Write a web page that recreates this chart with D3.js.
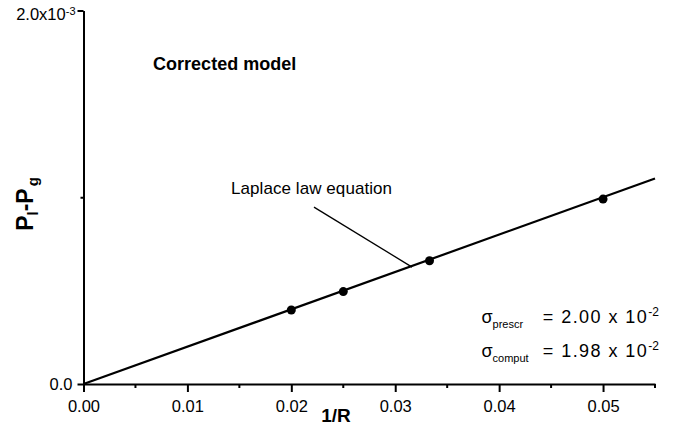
<!DOCTYPE html>
<html>
<head>
<meta charset="utf-8">
<script src="https://cdn.jsdelivr.net/npm/d3@7"></script>
<style>
  body { margin: 0; background: #fff; }
  text { font-family: "Liberation Sans", Arial, sans-serif; fill: #000; }
</style>
</head>
<body>
<div id="chart"></div>
<script>
// 1/R values and pressure difference
var xMajorTicks = [0, 0.01, 0.02, 0.03, 0.04, 0.05];
var xMinorTicks = [0.005, 0.015, 0.025, 0.035, 0.045, 0.055];
var xTickLabels = ["0.00", "0.01", "0.02", "0.03", "0.04", "0.05"];
var yTicks = [0, 0.001, 0.002];
var yTickLabels = ["0.0", "", "2.0x10^-3"];

var pointsR = [0.02, 0.025, 0.0333, 0.05];
var pointsP = [0.000396, 0.000495, 0.00066, 0.00099];
var lawR = [0, 0.055];
var lawP = [0, 0.0011];

var sigmaNames = ["prescr", "comput"];
var sigmaValues = ["2.00", "1.98"];
var sigmaExps = ["-2", "-2"];

var w = 681, h = 432;
var svg = d3.select("#chart").append("svg")
    .attr("width", w)
    .attr("height", h);

var x = d3.scaleLinear().domain([0, 0.055]).range([83.5, 655]);
var y = d3.scaleLinear().domain([0, 0.002]).range([384, 10.5]);

// x axis: major + minor ticks
var xAxis = svg.append("g")
    .attr("transform", "translate(0," + y(0) + ")")
    .call(d3.axisBottom(x)
        .tickValues(xMajorTicks)
        .tickSize(8)
        .tickSizeOuter(0)
        .tickPadding(8.4)
        .tickFormat(function (d, i) { return xTickLabels[i]; }));
xAxis.append("g").selectAll("line").data(xMinorTicks).enter()
    .append("line")
    .attr("x1", function (d) { return x(d); })
    .attr("x2", function (d) { return x(d); })
    .attr("y1", 0)
    .attr("y2", 4)
    .attr("stroke", "#000");
xAxis.selectAll("text").style("font-size", "16.5px");

// y axis
var yAxis = svg.append("g")
    .attr("transform", "translate(" + x(0) + ",0)")
    .call(d3.axisLeft(y)
        .tickValues(yTicks)
        .tickSize(6)
        .tickSizeOuter(0)
        .tickPadding(5)
        .tickFormat(function (d, i) { return yTickLabels[i]; }));
yAxis.selectAll(".tick line").attr("x2", function (d, i) { return yTickLabels[i] ? -6 : -3; });
yAxis.selectAll(".tick text").each(function (d, i) {
    var t = d3.select(this).style("font-size", "16.5px");
    var parts = yTickLabels[i].split("^");
    if (parts.length > 1) {
        t.text(null).attr("dy", "0.55em").attr("x", -8);
        t.append("tspan").text(parts[0]);
        t.append("tspan").attr("dy", "-0.45em").style("font-size", "11px").text(parts[1]);
    }
});

svg.selectAll(".domain, .tick line").attr("stroke", "#000").attr("stroke-width", 2);
xAxis.selectAll("line").attr("stroke-width", 2);

// axis titles
svg.append("text")
    .attr("x", x(0.0243))
    .attr("y", 422)
    .attr("text-anchor", "middle")
    .style("font-size", "19px")
    .style("font-weight", "bold")
    .text("1/R");

var yl = svg.append("text")
    .attr("transform", "translate(33,204) rotate(-90)")
    .attr("text-anchor", "middle")
    .style("font-size", "23px")
    .style("font-weight", "bold");
yl.append("tspan").text("P");
yl.append("tspan").attr("dy", 5).style("font-size", "15px").text("l");
yl.append("tspan").attr("dy", -5).text("-P");
yl.append("tspan").attr("dy", 5).attr("dx", 2).style("font-size", "15px").text("g");

// Laplace law line
var line = d3.line()
    .x(function (d) { return x(d[0]); })
    .y(function (d) { return y(d[1]); });
svg.append("path")
    .datum(d3.zip(lawR, lawP))
    .attr("d", line)
    .attr("fill", "none")
    .attr("stroke", "#000")
    .attr("stroke-width", 2.2);

// computed points
svg.selectAll("circle.pt").data(d3.zip(pointsR, pointsP)).enter()
    .append("circle")
    .attr("class", "pt")
    .attr("cx", function (d) { return x(d[0]); })
    .attr("cy", function (d) { return y(d[1]); })
    .attr("r", 4.5)
    .attr("fill", "#000");

// annotations
svg.append("text")
    .attr("x", x(0.0067))
    .attr("y", y(0.001684))
    .style("font-size", "18px")
    .style("font-weight", "bold")
    .text("Corrected model");

svg.append("text")
    .attr("x", x(0.0142))
    .attr("y", y(0.00102))
    .style("font-size", "17px")
    .attr("textLength", 161)
    .text("Laplace law equation");

svg.append("line")
    .attr("x1", x(0.02218))
    .attr("y1", y(0.000947))
    .attr("x2", x(0.03162))
    .attr("y2", y(0.000626))
    .attr("stroke", "#000")
    .attr("stroke-width", 1.3);

var sigmaY = [0.000326, 0.000144];
sigmaNames.forEach(function (name, i) {
    var s = svg.append("text")
        .attr("x", x(0.0383))
        .attr("y", y(sigmaY[i]))
        .style("font-size", "18px");
    s.append("tspan").text("σ");
    s.append("tspan").attr("dy", 5).style("font-size", "11px").text(name);

    var v = svg.append("text")
        .attr("x", x(0.0442))
        .attr("y", y(sigmaY[i]))
        .style("font-size", "18px");
    v.append("tspan").attr("textLength", 104).text("= " + sigmaValues[i] + " x 10");
    v.append("tspan").attr("dy", -7).style("font-size", "12px").text(sigmaExps[i]);
});
</script>
</body>
</html>
